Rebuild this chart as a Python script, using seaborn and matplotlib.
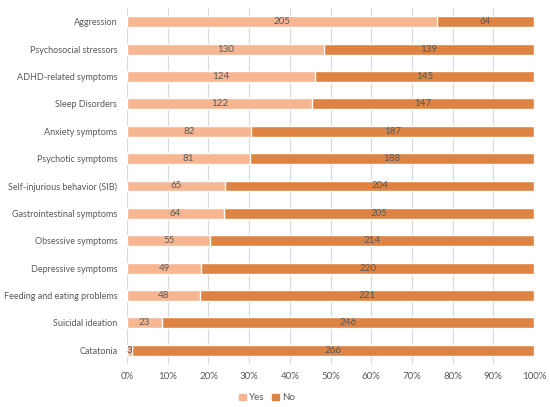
import pandas as pd
import matplotlib.pyplot as plt
import seaborn as sns
from matplotlib.patches import Patch
from matplotlib.ticker import PercentFormatter

categories = [
    "Aggression", "Psychosocial stressors", "ADHD-related symptoms",
    "Sleep Disorders", "Anxiety symptoms", "Psychotic symptoms",
    "Self-injurious behavior (SIB)", "Gastrointestinal symptoms",
    "Obsessive symptoms", "Depressive symptoms", "Feeding and eating problems",
    "Suicidal ideation", "Catatonia",
]
yes_counts = [205, 130, 124, 122, 82, 81, 65, 64, 55, 49, 48, 23, 3]
no_counts = [64, 139, 145, 147, 187, 188, 204, 205, 214, 220, 221, 246, 266]

YES_COLOR = "#F7B692"
NO_COLOR = "#DD8444"
TEXT_COLOR = "#595959"

df = pd.DataFrame({"Category": categories, "Yes": yes_counts, "No": no_counts})
df["Total"] = df["Yes"] + df["No"]
df["YesPct"] = df["Yes"] / df["Total"] * 100
df["AllPct"] = (df["Yes"] + df["No"]) / df["Total"] * 100

sns.set_style("white")
plt.rcParams["font.family"] = ["Lato", "DejaVu Sans"]

fig, ax = plt.subplots(figsize=(5.5, 4.07), dpi=100)
fig.subplots_adjust(left=0.231, right=0.971, top=0.98, bottom=0.106)

# stacked: full bar in "No" colour, then "Yes" share on top
sns.barplot(data=df, x="AllPct", y="Category", color=NO_COLOR, width=0.4,
            saturation=1, orient="h", ax=ax, zorder=2)
sns.barplot(data=df, x="YesPct", y="Category", color=YES_COLOR, width=0.4,
            saturation=1, orient="h", ax=ax, zorder=3)

for i, row in df.iterrows():
    ax.text(row["YesPct"] / 2, i, str(row["Yes"]), ha="center", va="center",
            fontsize=7, color=TEXT_COLOR, zorder=4)
    ax.text((row["YesPct"] + 100) / 2, i, str(row["No"]), ha="center",
            va="center", fontsize=7, color=TEXT_COLOR, zorder=4)

ax.set_xlim(0, 100)
ax.set_xticks(range(0, 101, 10))
ax.xaxis.set_major_formatter(PercentFormatter(decimals=0))
ax.grid(axis="x", color="#D9D9D9", linewidth=0.8, zorder=0)
ax.set_axisbelow(True)
ax.set_xlabel("")
ax.set_ylabel("")
for s in ax.spines.values():
    s.set_visible(False)
ax.tick_params(axis="x", length=0, labelsize=7, colors=TEXT_COLOR, pad=6)
ax.tick_params(axis="y", length=0, labelsize=6.5, colors=TEXT_COLOR, pad=7)

handles = [Patch(color=YES_COLOR, label="Yes"), Patch(color=NO_COLOR, label="No")]
fig.legend(handles=handles, loc="lower center", ncol=2, frameon=False,
           fontsize=7, handlelength=0.7, handleheight=0.7, handletextpad=0.3,
           columnspacing=0.8, labelcolor=TEXT_COLOR, bbox_to_anchor=(0.485, -0.01))

fig.savefig("out.png", dpi=100)
